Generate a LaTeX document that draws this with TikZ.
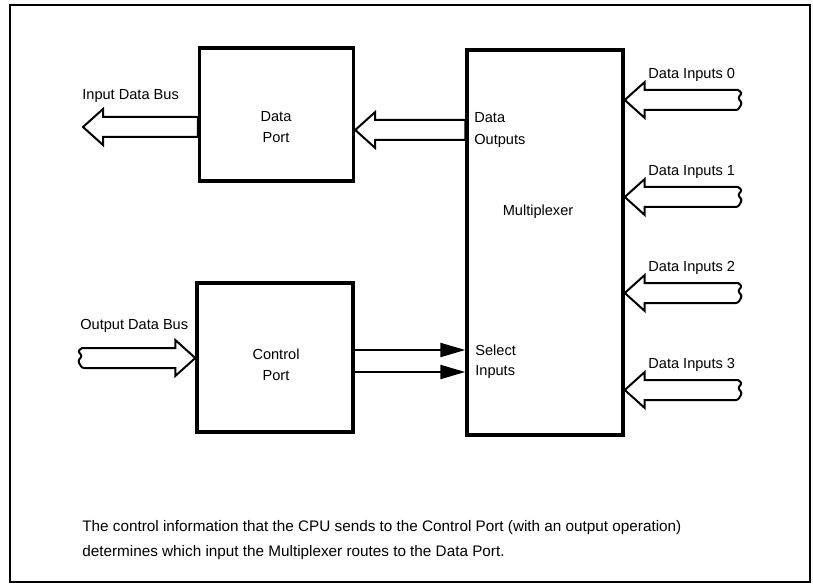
\documentclass[tikz,border=0pt]{standalone}
\usepackage{fontspec}
\setmainfont{Liberation Sans}
\usetikzlibrary{calc,arrows.meta}

% hollow bus arrow: tip, tail, direction (+1 head opens to the right)
\newcommand{\busarrow}[3]{%
  \draw[bus] (#1) -- ++({(#3)*20},-18) -- ++(0,8) -- ($(#2)+(0,-10)$)
    -- ($(#2)+(0,10)$) -- ($(#1)+({(#3)*20},10)$) -- ++(0,8) -- cycle;}
% same, with a broken (wavy) tail end
\newcommand{\buswavy}[3]{%
  \draw[bus] (#1) -- ++({(#3)*20},-18) -- ++(0,8) -- ($(#2)+(0,-10)$)
    [rounded corners=1.2] -- ++({(#3)*4},3) -- ++({-(#3)*4},5) -- ++({(#3)*4},5)
    -- ++({-(#3)*4},7) [sharp corners]
    -- ($(#1)+({(#3)*20},10)$) -- ++(0,8) -- cycle;}

\begin{document}
\begin{tikzpicture}[x=0.02cm, y=-0.02cm, >={Triangle[length=0.5cm,width=0.28cm]},
    font=\fontsize{8.3}{12}\selectfont,
    box/.style={draw, line width=0.07cm, inner sep=0pt},
    bus/.style={line width=0.04cm, line join=miter},
    sel/.style={->, line width=0.045cm},
    lbl/.style={inner sep=0pt, align=center},
    side/.style={inner sep=0pt, anchor=west, align=left}]
    \useasboundingbox (0,0) rectangle (813,587);
    \draw[line width=0.045cm] (10,5) rectangle (810,582);

    % boxes
    \node[box, minimum width=3.08cm, minimum height=2.66cm] (dport) at (276.5,114.5) {};
    \node[box, minimum width=3.12cm, minimum height=2.98cm] (cport) at (275,357.5) {};
    \node[box, minimum width=3.12cm, minimum height=7.7cm] (mux) at (545,242.5) {};
    \node[lbl] (dportlbl) at (276,127) {Data\\Port};
    \node[lbl] (cportlbl) at (276,365) {Control\\Port};
    \node[lbl] (muxlbl) at (538,212) {Multiplexer};

    % data side
    \node[side] (dout) at (474,130) {Data\\Outputs};
    \busarrow{dport.east |- dout}{mux.west |- dout}{1}
    \coordinate (inbus) at (83,127);
    \node[side] (inlbl) at (82,96) {Input Data Bus};
    \busarrow{inbus}{dport.west |- inbus}{1}

    % control side
    \node[side] (selA) at (475,350) {Select};
    \node[side] (selB) at (475,372) {Inputs};
    \draw[sel] (cport.east |- selA) -- (mux.west |- selA);
    \draw[sel] (cport.east |- selB) -- (mux.west |- selB);
    \coordinate (outbus) at (82,358);
    \node[side] (outlbl) at (80,326) {Output Data Bus};
    \buswavy{cport.west |- outbus}{outbus}{-1}

    % inputs to the multiplexer
    \foreach \i/\y in {0/100, 1/197, 2/293, 3/390} {
        \coordinate (din\i) at (738,\y);
        \node[side] (dinlbl\i) at (648,\y-25) {Data Inputs \i};
        \buswavy{mux.east |- din\i}{din\i}{1}
    }

    \node[side, font=\fontsize{8.7}{14.2}\selectfont] (note) at (82,540)
        {The control information that the CPU sends to the Control Port (with an output operation)\\
         determines which input the Multiplexer routes to the Data Port.};
\end{tikzpicture}
\end{document}
